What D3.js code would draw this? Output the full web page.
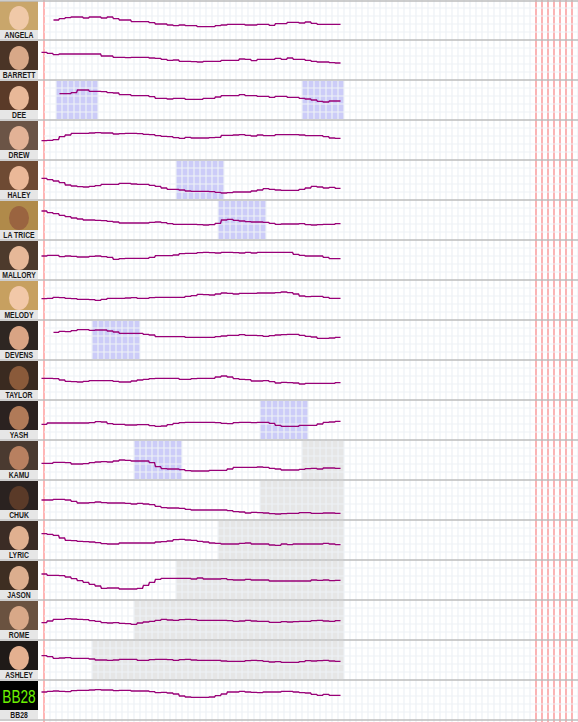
<!DOCTYPE html>
<html>
<head>
<meta charset="utf-8">
<script src="https://cdn.jsdelivr.net/npm/d3@7"></script>
<style>
  body { margin: 0; background: #fff; }
  svg { display: block; }
</style>
</head>
<body>
<script>
const width = 578;
const height = 722;
const rowH = 40;

// houseguests, top to bottom
const names = ["ANGELA", "BARRETT", "DEE", "DREW", "HALEY", "LA TRICE", "MALLORY", "MELODY", "DEVENS",
  "TAYLOR", "YASH", "KAMU", "CHUK", "LYRIC", "JASON", "ROME", "ASHLEY", "BB28"];
// first day each line is drawn from
const firstDay = [2, 0, 3, 0, 0, 0, 0, 0, 2, 0, 0, 0, 0, 0, 0, 0, 0, 0];

// daily standing (0 = top of the row, 120 = bottom)
const angela = [60,56,53,51,51,54,51,51,54,51,56,60,60,65,65,65,68,72,72,75,77,75,77,77,80,80,80,77,75,73,73,73,75,75,73,73,76,71,71,67,67,69,66,70,73,73,73,73];
const barrett = [37,40,44,42,42,42,42,42,42,42,48,48,52,52,53,52,52,52,54,55,58,61,60,64,64,65,66,64,64,64,61,61,61,57,58,62,58,58,58,55,58,54,58,58,61,64,66,66,68,69];
const dee = [41,41,38,30,30,34,34,35,38,39,44,44,47,47,47,50,55,55,57,55,55,58,58,58,55,55,51,47,47,47,44,47,47,49,49,52,49,49,52,52,55,57,60,64,66,63,63];
const drew = [62,61,59,50,45,40,40,40,39,38,39,39,42,41,40,40,41,43,44,47,49,50,53,55,52,54,54,54,53,52,46,46,45,44,46,48,45,47,47,44,44,44,44,45,47,47,47,50,54,55];
const haley = [55,59,63,68,75,78,80,81,79,77,73,73,73,70,70,72,73,73,76,79,84,88,88,90,93,94,94,94,95,97,99,98,96,96,96,93,90,86,88,90,91,91,91,88,84,79,81,84,82,85];
const latrice = [33,38,41,46,50,54,57,60,60,61,62,64,66,69,69,69,69,69,67,66,68,71,73,73,73,73,74,75,74,70,60,58,61,63,65,66,66,67,70,73,72,72,72,71,74,75,74,73,73,71];
const mallory = [48,46,46,50,48,49,51,51,49,48,50,52,58,56,55,55,55,55,52,47,47,47,45,41,40,40,38,37,38,39,37,37,38,39,37,39,37,37,37,37,37,37,43,46,48,48,48,52,56,56];
const melody = [56,55,52,53,55,56,58,58,59,61,58,55,55,55,54,53,55,55,53,52,52,52,52,52,49,47,43,44,45,42,39,40,42,40,40,40,39,39,39,38,36,38,42,48,50,49,49,52,55,55];
const devens = [37,34,35,32,29,29,31,30,30,33,36,40,40,40,40,43,45,50,50,50,50,50,52,52,52,52,52,50,48,46,46,44,46,46,47,49,47,45,44,43,43,46,49,51,55,55,54,52];
const taylor = [55,55,56,60,64,65,66,64,62,62,62,62,64,66,66,63,60,58,56,55,55,55,55,58,58,56,55,55,55,51,48,51,56,58,59,63,63,62,65,69,67,68,69,72,70,70,70,70,70,68];
const yash = [73,69,69,69,69,69,69,69,68,65,66,71,73,73,75,75,74,74,77,79,78,74,70,68,67,67,67,67,67,68,70,71,68,67,67,68,67,67,70,76,79,79,79,76,76,76,72,67,66,64];
const kamu = [70,70,67,67,68,72,72,71,68,66,65,66,63,60,61,63,63,63,68,80,86,87,87,89,92,93,93,93,91,91,91,87,82,82,82,82,81,82,85,87,90,90,90,88,86,85,87,84,84,85];
const chuk = [60,60,58,58,60,64,69,69,68,66,68,69,69,69,70,72,70,72,74,79,83,84,84,85,88,90,90,90,90,90,90,92,95,96,99,97,98,99,101,102,101,100,100,98,98,100,100,99,99,100];
const lyric = [41,43,46,54,61,62,64,65,66,68,71,72,72,69,69,69,69,69,69,66,65,63,59,58,60,61,64,66,69,70,72,72,72,70,69,72,72,72,75,76,72,74,72,72,72,72,72,70,72,74];
const jason = [42,46,46,47,51,56,62,67,73,78,85,84,84,87,87,87,85,76,67,58,55,55,55,55,55,57,54,57,57,57,56,59,60,60,58,60,60,60,63,63,63,63,63,63,63,60,61,60,62,61];
const rome = [68,63,58,58,56,57,58,59,62,64,68,69,68,70,71,73,69,66,64,61,58,60,61,59,58,59,61,61,61,61,61,62,64,63,61,63,64,64,67,67,65,66,65,64,64,62,61,63,64,62];
const ashley = [47,50,55,54,53,55,55,55,57,60,60,61,60,58,58,58,61,61,59,58,58,59,61,59,58,60,61,61,61,61,63,64,64,64,62,61,62,64,66,65,67,67,67,65,62,63,62,61,63,64];
const bb28 = [36,34,33,34,35,32,31,31,30,29,30,30,32,31,31,33,33,33,35,38,37,39,42,48,51,52,52,52,51,47,42,36,36,34,36,37,38,36,36,36,34,34,36,38,39,43,46,43,46,46];

const series = [angela, barrett, dee, drew, haley, latrice, mallory, melody, devens,
  taylor, yash, kamu, chuk, lyric, jason, rome, ashley, bb28];

// head of household reigns [name, first day, day after]
const hohNames = ["DEE", "DEVENS", "KAMU", "HALEY", "LA TRICE", "YASH", "DEE"];
const hohStart = [2, 8, 15, 22, 29, 36, 43];
const hohEnd = [9, 16, 23, 30, 37, 44, 50];

// evictions
const evictedNames = ["ASHLEY", "ROME", "JASON", "LYRIC", "CHUK", "KAMU"];
const evictedDay = [8, 15, 22, 29, 36, 43];
const today = 50;

// marked days
const markDays = [0, 82, 83, 84, 85, 86, 87, 88];
const totalDays = 89;

// photo placeholder tones
const hairTones = ["#c9a66b", "#4a3426", "#5a3a28", "#6b5446", "#6e4a33", "#b08a4a", "#4d3a2c", "#c7a060", "#2e2622",
  "#3a2a20", "#2b2220", "#4a3a30", "#2a2220", "#3b2c25", "#3e2e22", "#6a5240", "#1f1a18", "#000"];
const skinTones = ["#f0c9a8", "#d8a888", "#e8b898", "#e2b296", "#eab898", "#9a6440", "#e6b898", "#f2c8a8", "#d9a484",
  "#8a5a3a", "#b07a58", "#b88060", "#5a3a28", "#e0b090", "#dcae8e", "#d8a888", "#e4b090", "#000"];

const x = d3.scaleLinear().domain([0, totalDays]).range([44, width]);
const rowY = d3.scaleBand().domain(names).range([0, names.length * rowH]);

const svg = d3.select("body")
  .append("svg")
  .attr("width", width)
  .attr("height", height);

svg.append("rect")
  .attr("width", width)
  .attr("height", height)
  .attr("fill", "#fff");

// evicted shading
svg.selectAll("rect.evicted")
  .data(evictedNames)
  .enter().append("rect")
  .attr("class", "evicted")
  .attr("x", (d, i) => x(evictedDay[i]))
  .attr("width", (d, i) => x(today) - x(evictedDay[i]))
  .attr("y", d => rowY(d) + 1)
  .attr("height", rowH - 2)
  .attr("fill", "#e6e6e6");

// HOH blocks
svg.selectAll("rect.hoh")
  .data(hohNames)
  .enter().append("rect")
  .attr("class", "hoh")
  .attr("x", (d, i) => x(hohStart[i]))
  .attr("width", (d, i) => x(hohEnd[i]) - x(hohStart[i]))
  .attr("y", d => rowY(d) + 1)
  .attr("height", rowH - 2)
  .attr("fill", "#ccccf8");

// vertical grid
svg.selectAll("line.vgrid")
  .data(d3.range(1, totalDays + 1))
  .enter().append("line")
  .attr("class", "vgrid")
  .attr("x1", d => x(d)).attr("x2", d => x(d))
  .attr("y1", 0).attr("y2", height)
  .attr("stroke", "#edf1f6")
  .attr("stroke-width", 1.2);

// marked days
svg.selectAll("line.mark")
  .data(markDays)
  .enter().append("line")
  .attr("class", "mark")
  .attr("x1", d => x(d)).attr("x2", d => x(d))
  .attr("y1", 0).attr("y2", height)
  .attr("stroke", "#ff9090")
  .attr("stroke-width", 1.3);

const rows = svg.selectAll("g.row")
  .data(names)
  .enter().append("g")
  .attr("class", "row")
  .attr("transform", d => "translate(0," + rowY(d) + ")");

const y = d3.scaleLinear().domain([0, 120]).range([0, rowH]);

// horizontal grid inside each row
rows.selectAll("line.hgrid")
  .data([24, 48, 72, 96])
  .enter().append("line")
  .attr("class", "hgrid")
  .attr("x1", x(0)).attr("x2", width)
  .attr("y1", d => y(d)).attr("y2", d => y(d))
  .attr("stroke", "#edf1f6")
  .attr("stroke-width", 1.2);

// photo placeholders
rows.append("rect")
  .attr("x", 0).attr("y", 1)
  .attr("width", 38).attr("height", 29)
  .attr("fill", (d, i) => hairTones[i]);

rows.filter(d => d !== "BB28").append("ellipse")
  .attr("cx", 19).attr("cy", 18)
  .attr("rx", 10).attr("ry", 12)
  .attr("fill", (d, i) => skinTones[i]);

rows.filter(d => d === "BB28").append("text")
  .attr("transform", "translate(19,23) scale(0.72,1)")
  .attr("text-anchor", "middle")
  .style("font-family", "'Liberation Sans', Arial, sans-serif")
  .style("font-size", "19px")
  .attr("fill", "#6cf000")
  .text("BB28");

// name labels
rows.append("rect")
  .attr("x", 0).attr("y", 30)
  .attr("width", 38).attr("height", 9)
  .attr("fill", "#e6e6e6");

rows.append("text")
  .attr("transform", "translate(19,38) scale(0.76,1)")
  .attr("text-anchor", "middle")
  .style("font-family", "'Liberation Sans', Arial, sans-serif")
  .style("font-size", "9px")
  .style("font-weight", "bold")
  .attr("fill", "#1a1a1a")
  .text(d => d)
  .each(function () {
    // keep long names inside the label box
    const w = this.getComputedTextLength();
    if (w > 47) d3.select(this).attr("textLength", 47).attr("lengthAdjust", "spacingAndGlyphs");
  });

// daily lines: each day held flat, then joined to the next
const line = d3.line()
  .x(p => x(p.day))
  .y(p => y(p.value));

rows.append("path")
  .attr("d", (d, i) => {
    const pts = [];
    series[i].forEach((v, k) => {
      const day = firstDay[i] + k;
      pts.push({ day: day - 0.42, value: v });
      pts.push({ day: day + 0.42, value: v });
    });
    return line(pts);
  })
  .attr("fill", "none")
  .attr("stroke", "#990077")
  .attr("stroke-width", 1.4);

// row separators
svg.selectAll("line.sep")
  .data(d3.range(0, names.length + 1))
  .enter().append("line")
  .attr("class", "sep")
  .attr("x1", 0).attr("x2", width)
  .attr("y1", d => Math.max(1, d * rowH)).attr("y2", d => Math.max(1, d * rowH))
  .attr("stroke", "#bdbdbd")
  .attr("stroke-width", 1.6);
</script>
</body>
</html>
